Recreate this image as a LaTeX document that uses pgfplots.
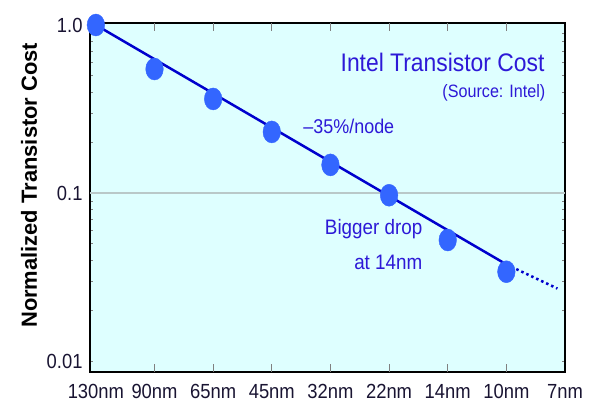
\documentclass[border=0pt]{standalone}
\usepackage{pgfplots}
\pgfplotsset{compat=1.18}
\usepackage{fontspec}
\setmainfont{Liberation Sans}[FakeStretch=0.9]
\newfontfamily\plainsans{Liberation Sans}
\definecolor{bg}{RGB}{222,255,255}
\definecolor{linec}{RGB}{0,0,205}
\definecolor{markc}{RGB}{51,102,255}
\definecolor{annot}{RGB}{45,25,215}
\definecolor{gridc}{RGB}{185,200,200}
\definecolor{tickc}{RGB}{25,20,50}
\begin{document}
\begin{tikzpicture}
\begin{axis}[
  scale only axis, width=475bp, height=349bp,
  xmin=-0.1, xmax=8,
  ymode=log, ymin=0.0086, ymax=1.028,
  axis background/.style={fill=bg},
  axis line style={black, line width=1.6bp},
  xtick={0,...,8},
  xticklabels={130nm,90nm,65nm,45nm,32nm,22nm,14nm,10nm,7nm},
  major tick length=0pt,
  extra x ticks={1,...,7}, extra x tick labels={},
  extra x tick style={major tick length=8bp, tick style={gray, line width=0.8bp}},
  ytick={0.01,0.1,1}, yticklabels={0.01,0.1,1.0},
  /pgf/number format/assume math mode=true,
  tick label style={font=\fontsize{20.5}{24}\selectfont, text=tickc},
  xticklabel style={yshift=-9bp},
  yticklabel style={xshift=-4bp},
  ylabel={Normalized Transistor Cost},
  every axis y label/.style={at={(rel axis cs:0,0.535)}, xshift=-61bp, rotate=90, anchor=center,
    font=\plainsans\fontsize{22}{26}\selectfont\bfseries},
]
\addplot[gridc, line width=2bp, forget plot] coordinates {(-0.1,0.1) (8,0.1)};
\addplot[linec, line width=2.5bp] coordinates {(0,1) (7,0.0376)};
\addplot[linec, line width=2.5bp, dash pattern=on 2.5bp off 3bp] coordinates {(7,0.0376) (7.87,0.027)};
\addplot[only marks, mark=*, mark size=11bp, mark options={xscale=0.8, fill=markc, draw=markc}]
  coordinates {(0,1.0) (1,0.547) (2,0.363) (3,0.231) (4,0.147) (5,0.097) (6,0.0525) (7,0.034)};
\node[anchor=east, text=annot, font=\fontsize{25.5}{30}\selectfont] at (rel axis cs:0.964,0.888) {Intel Transistor Cost};
\node[anchor=east, text=annot, font=\fontsize{18}{22}\selectfont] at (rel axis cs:0.966,0.799) {(Source: Intel)};
\node[anchor=west, text=annot, font=\fontsize{20}{22}\selectfont] at (rel axis cs:0.442,0.705) {–35\%/node};
\node[anchor=east, text=annot, font=\fontsize{21}{24}\selectfont] at (rel axis cs:0.707,0.410) {Bigger drop};
\node[anchor=east, text=annot, font=\fontsize{21}{24}\selectfont] at (rel axis cs:0.707,0.315) {at 14nm};
\end{axis}
\pgfresetboundingbox
\useasboundingbox ([xshift=-90bp,yshift=-33bp]current axis.south west) rectangle ([xshift=24bp,yshift=23bp]current axis.north east);
\end{tikzpicture}
\end{document}
